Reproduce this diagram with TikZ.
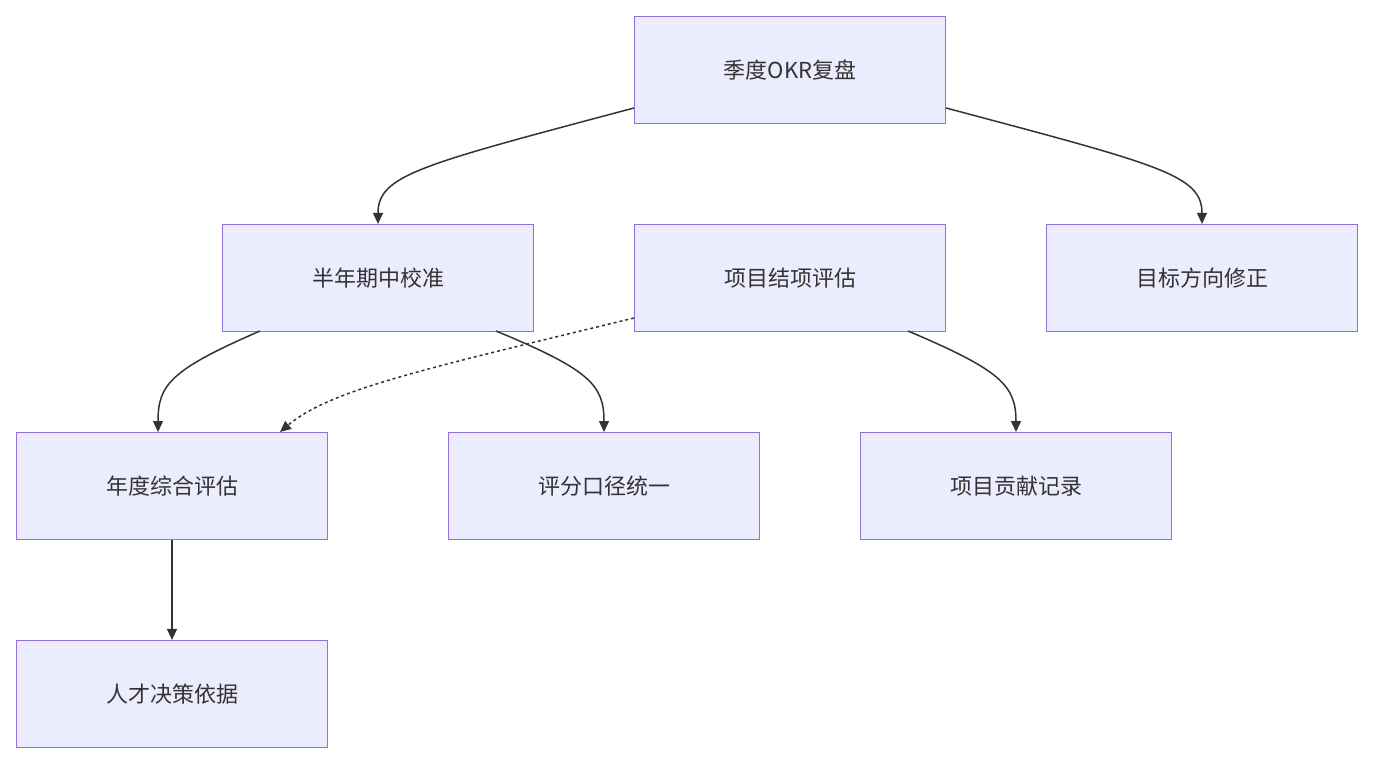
\documentclass[tikz,border=0pt]{standalone}
\usepackage{fontspec}
\newfontfamily\cjk{Noto Sans CJK SC}
\usetikzlibrary{arrows.meta}
\definecolor{nfill}{HTML}{ECECFF}
\definecolor{nedge}{HTML}{9370DB}
\definecolor{ink}{HTML}{333333}
\begin{document}
\begin{tikzpicture}[x=1pt,y=-1pt,
  box/.style={draw=nedge,fill=nfill,line width=1.2pt,minimum width=311pt,minimum height=107pt,inner sep=0pt,font=\cjk\fontsize{22}{26}\selectfont,text=ink},
  link/.style={draw=ink,line width=1.5pt,-{Triangle[length=11pt,width=10pt]}}]
\useasboundingbox (0,0) rectangle (1374,764);
\node[box] (a) at (790,70) {季度OKR复盘};
\node[box] (b) at (378,278) {半年期中校准};
\node[box] (c) at (790,278) {项目结项评估};
\node[box] (d) at (1202,278) {目标方向修正};
\node[box] (e) at (172,486) {年度综合评估};
\node[box] (f) at (604,486) {评分口径统一};
\node[box] (g) at (1016,486) {项目贡献记录};
\node[box] (h) at (172,694) {人才决策依据};
\draw[link] (a.west |- 0,108) .. controls (420,165) and (378,175) .. (b.north);
\draw[link] (a.east |- 0,108) .. controls (1160,165) and (1202,175) .. (d.north);
\draw[link] (260,331) .. controls (170,370) and (158,385) .. (158,432);
\draw[link] (496,331) .. controls (590,370) and (604,385) .. (604,432);
\draw[link] (908,331) .. controls (1000,370) and (1016,385) .. (1016,432);
\draw[link,dashed] (634,318) .. controls (420,370) and (330,390) .. (280,432);
\draw[link] (e.south) -- (h.north);
\end{tikzpicture}
\end{document}
